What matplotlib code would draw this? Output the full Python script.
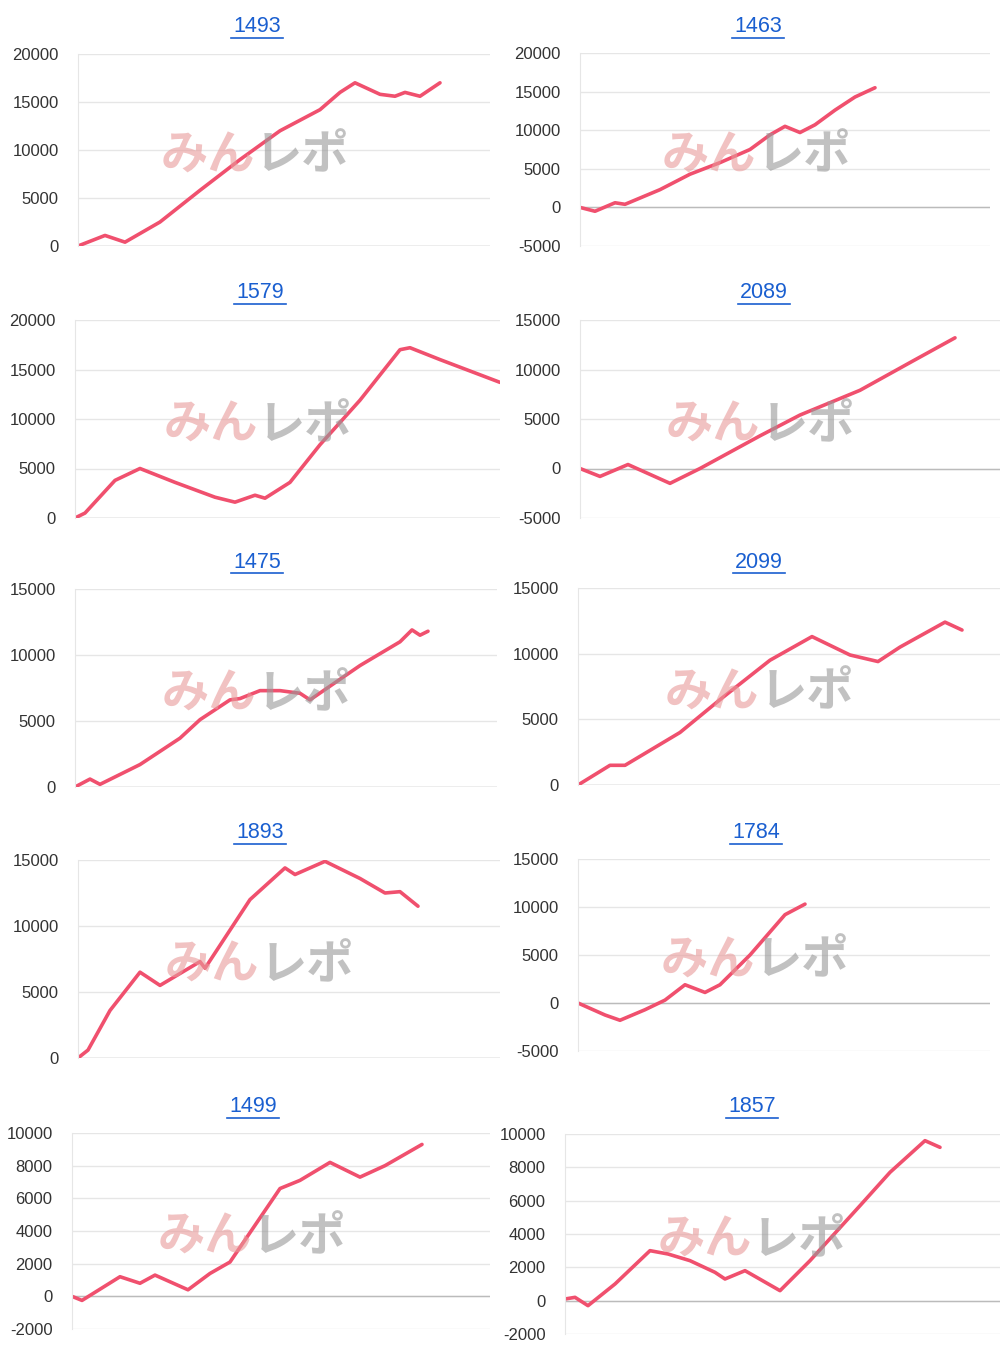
import numpy as np
import matplotlib.pyplot as plt
from matplotlib.lines import Line2D

plt.rcParams['font.family'] = ['Liberation Sans', 'Noto Sans CJK JP']
plt.rcParams['axes.unicode_minus'] = False

# --- data: trade count vs cumulative profit, one series per panel ---
titles = ["1493", "1463", "1579", "2089", "1475", "2099", "1893", "1784", "1499", "1857"]

x1493 = [0, 27, 47, 82, 122, 162, 202, 242, 262, 277, 302, 317, 327, 342, 362]
y1493 = [0, 1100, 400, 2500, 5800, 9000, 12000, 14200, 16000, 17000, 15800, 15600, 16000, 15600, 17000]
x1463 = [0, 15, 35, 45, 80, 110, 140, 170, 190, 205, 220, 235, 255, 275, 295]
y1463 = [0, -500, 600, 400, 2300, 4300, 5800, 7500, 9400, 10500, 9700, 10700, 12600, 14300, 15500]
x1579 = [0, 10, 40, 65, 100, 140, 160, 180, 190, 215, 245, 285, 325, 335, 365, 425]
y1579 = [0, 500, 3800, 5000, 3600, 2100, 1600, 2300, 2000, 3600, 7400, 11900, 17000, 17200, 16000, 13700]
x2089 = [0, 20, 48, 90, 120, 180, 220, 280, 330, 375]
y2089 = [0, -800, 400, -1500, 0, 3300, 5400, 7900, 10700, 13200]
x1475 = [0, 15, 25, 65, 105, 125, 155, 165, 185, 205, 225, 235, 285, 325, 337, 345, 353]
y1475 = [0, 600, 200, 1700, 3700, 5100, 6600, 6700, 7300, 7300, 7100, 6600, 9200, 11000, 11900, 11500, 11800]
x2099 = [0, 32, 47, 102, 142, 192, 234, 272, 300, 322, 367, 384]
y2099 = [0, 1500, 1500, 4000, 6500, 9500, 11300, 9900, 9400, 10500, 12400, 11800]
x1893 = [0, 10, 32, 62, 82, 122, 127, 172, 207, 217, 247, 282, 307, 322, 340]
y1893 = [0, 600, 3600, 6500, 5500, 7300, 6800, 12000, 14400, 13900, 14900, 13600, 12500, 12600, 11500]
x1784 = [0, 27, 42, 67, 87, 107, 127, 142, 172, 207, 227]
y1784 = [0, -1250, -1800, -700, 300, 1900, 1100, 1900, 5000, 9200, 10300]
x1499 = [0, 10, 48, 68, 83, 116, 138, 158, 178, 208, 228, 258, 288, 313, 350]
y1499 = [0, -250, 1200, 800, 1300, 400, 1400, 2100, 3900, 6600, 7100, 8200, 7300, 8000, 9300]
x1857 = [0, 10, 23, 50, 85, 103, 125, 150, 160, 180, 215, 245, 295, 325, 360, 375]
y1857 = [100, 200, -300, 1000, 3000, 2800, 2400, 1700, 1300, 1800, 600, 2400, 5700, 7700, 9600, 9200]

xs = [x1493, x1463, x1579, x2089, x1475, x2099, x1893, x1784, x1499, x1857]
ys = [y1493, y1463, y1579, y2089, y1475, y2099, y1893, y1784, y1499, y1857]
xmax = [412, 410, 425, 420, 422, 422, 422, 412, 418, 435]
ylims = [(0, 20000), (-5000, 20000), (0, 20000), (-5000, 15000), (0, 15000),
         (0, 15000), (0, 15000), (-5000, 15000), (-2000, 10000), (-2000, 10000)]
steps = [5000] * 8 + [2000, 2000]

# layout in pixels: left, right, top, bottom of plot area; title position
W, H = 1000, 1352
boxes = [(78, 490, 54, 246), (580, 990, 53, 246), (75, 500, 320, 518), (580, 1000, 320, 518),
         (75, 497, 589, 787), (578, 1000, 588, 785), (78, 500, 860, 1058), (578, 990, 859, 1051),
         (72, 490, 1133, 1329), (565, 1000, 1134, 1334)]
title_x = [257, 758, 260, 764, 257, 759, 260, 756, 253, 752]
title_y = [27, 27, 293, 293, 562, 562, 833, 833, 1107, 1107]

fig = plt.figure(figsize=(W / 100, H / 100), dpi=100)
red = '#f0506e'

for i in range(10):
    l, r, t, b = boxes[i]
    ax = fig.add_axes([l / W, 1 - b / H, (r - l) / W, (b - t) / H])
    lo, hi = ylims[i]
    ax.set_xlim(0, xmax[i])
    ax.set_ylim(lo, hi)
    ax.set_yticks(np.arange(lo, hi + 1, steps[i]))
    ax.set_xticks([])
    ax.grid(axis='y', color='#e6e6e6', lw=1)
    ax.axhline(0, color='#bbbbbb', lw=1)
    for s in ['top', 'right', 'bottom']:
        ax.spines[s].set_visible(False)
    ax.spines['left'].set_color('#e6e6e6')
    ax.tick_params(axis='y', length=0, labelsize=12, colors='#333333', pad=14)
    ax.set_axisbelow(True)
    # watermark
    ax.text(0.43, 0.47, 'みん', transform=ax.transAxes, ha='right', va='center',
            fontsize=34, fontweight='bold', color='#e89a9a', alpha=0.6, style='italic',
            family=['Noto Sans CJK JP'])
    ax.text(0.43, 0.47, 'レポ', transform=ax.transAxes, ha='left', va='center',
            fontsize=34, fontweight='bold', color='#999999', alpha=0.6, style='italic',
            family=['Noto Sans CJK JP'])
    ax.plot(xs[i], ys[i], color=red, lw=2.6, solid_capstyle='round')
    # linked title with underline
    fig.text(title_x[i] / W, 1 - title_y[i] / H, titles[i], ha='center', va='center',
             fontsize=15.5, color='#1a5fd0')
    fig.add_artist(Line2D([(title_x[i] - 26) / W, (title_x[i] + 26) / W],
                          [1 - (title_y[i] + 11) / H] * 2, color='#1a5fd0', lw=1.2))

fig.savefig('out.png', dpi=100, facecolor='white')
